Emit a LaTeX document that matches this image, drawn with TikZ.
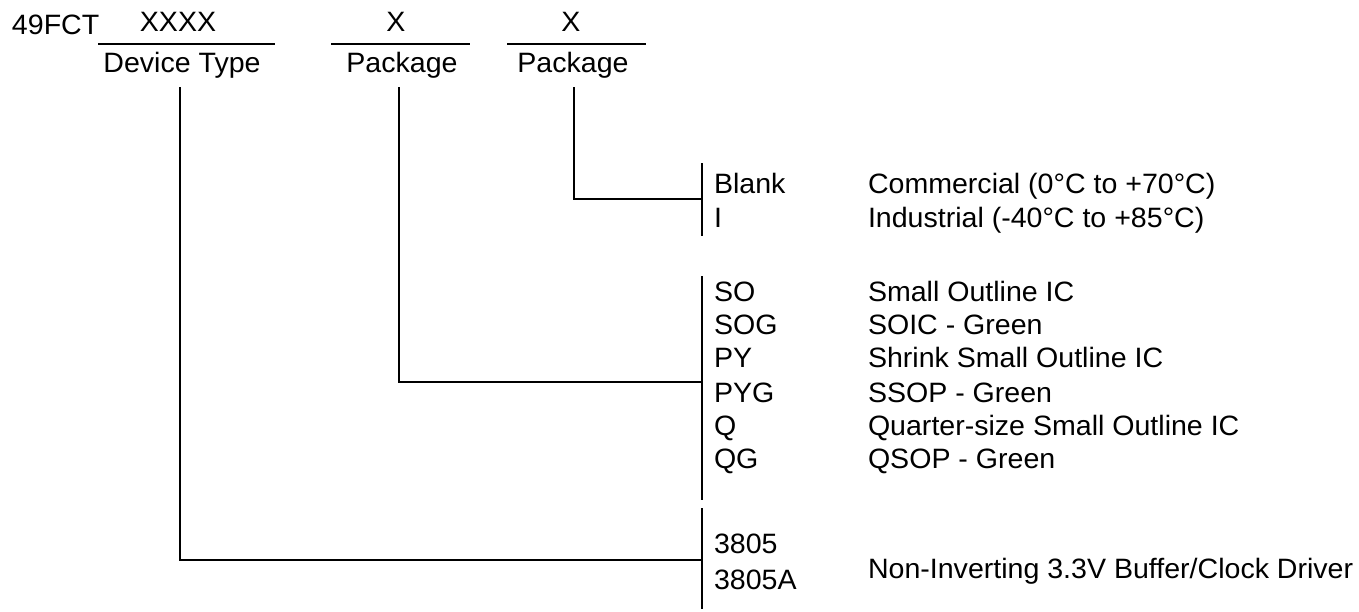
\documentclass[tikz,border=0pt]{standalone}
\usepackage{fontspec}
\setmainfont{Liberation Sans}[FakeStretch=1.02]
\begin{document}
\begin{tikzpicture}[x=0.75pt,y=-0.75pt,
  txt/.style={inner sep=0pt,outer sep=0pt,font=\fontsize{21}{24}\selectfont},
  lt/.style={txt,anchor=base west},
  ct/.style={txt,anchor=base},
  ln/.style={line width=1.4pt,line cap=rect},
  stem/.style={line width=1.1pt}]
\useasboundingbox (0,0) rectangle (1359,611);
% header
\node[lt] (pre) at (12,34) {49FCT};
\node[ct] (xd) at (178,31) {XXXX};
\node[ct] (dt) at (182,72) {Device Type};
\node[ct] (xp1) at (396,31) {X};
\node[ct] (pk1) at (402,72) {Package};
\node[ct] (xp2) at (571,31) {X};
\node[ct] (pk2) at (573,72) {Package};
\coordinate (u1a) at (99,44); \coordinate (u1b) at (274,44);
\coordinate (u2a) at (332,44); \coordinate (u2b) at (469,44);
\coordinate (u3a) at (508,44); \coordinate (u3b) at (645,44);
\draw[ln] (u1a) -- (u1b);
\draw[ln] (u2a) -- (u2b);
\draw[ln] (u3a) -- (u3b);
% temperature bracket
\coordinate (s3) at (574,87);
\coordinate (j3) at (574,199);
\coordinate (b3t) at (702,164); \coordinate (b3m) at (702,199); \coordinate (b3b) at (702,235);
\draw[stem] (s3) -- (j3) -- (b3m);
\draw[ln] (b3t) -- (b3b);
\node[lt] (blank) at (714,193) {Blank};
\node[lt] (iopt) at (714,227) {I};
\node[lt] (com) at (868,193) {Commercial (0°C to +70°C)};
\node[lt] (ind) at (868,227) {Industrial (-40°C to +85°C)};
% package bracket
\coordinate (s2) at (399,87);
\coordinate (j2) at (399,382);
\coordinate (b2t) at (702,277); \coordinate (b2m) at (702,382); \coordinate (b2b) at (702,499);
\draw[stem] (s2) -- (j2) -- (b2m);
\draw[ln] (b2t) -- (b2b);
\node[lt] (so) at (714,301) {SO};
\node[lt] (sog) at (714,334) {SOG};
\node[lt] (py) at (714,367) {PY};
\node[lt] (pyg) at (714,402) {PYG};
\node[lt] (q) at (714,435) {Q};
\node[lt] (qg) at (714,468) {QG};
\node[lt] (dso) at (868,301) {Small Outline IC};
\node[lt] (dsog) at (868,334) {SOIC - Green};
\node[lt] (dpy) at (868,367) {Shrink Small Outline IC};
\node[lt] (dpyg) at (868,402) {SSOP - Green};
\node[lt] (dq) at (868,435) {Quarter-size Small Outline IC};
\node[lt] (dqg) at (868,468) {QSOP - Green};
% device bracket
\coordinate (s1) at (180,87);
\coordinate (j1) at (180,560);
\coordinate (b1t) at (702,509); \coordinate (b1m) at (702,560); \coordinate (b1b) at (702,608);
\draw[stem] (s1) -- (j1) -- (b1m);
\draw[ln] (b1t) -- (b1b);
\node[lt] (d1) at (714,553) {3805};
\node[lt] (d2) at (714,589) {3805A};
\node[lt] (dd) at (868,578) {Non-Inverting 3.3V Buffer/Clock Driver};
\end{tikzpicture}
\end{document}
